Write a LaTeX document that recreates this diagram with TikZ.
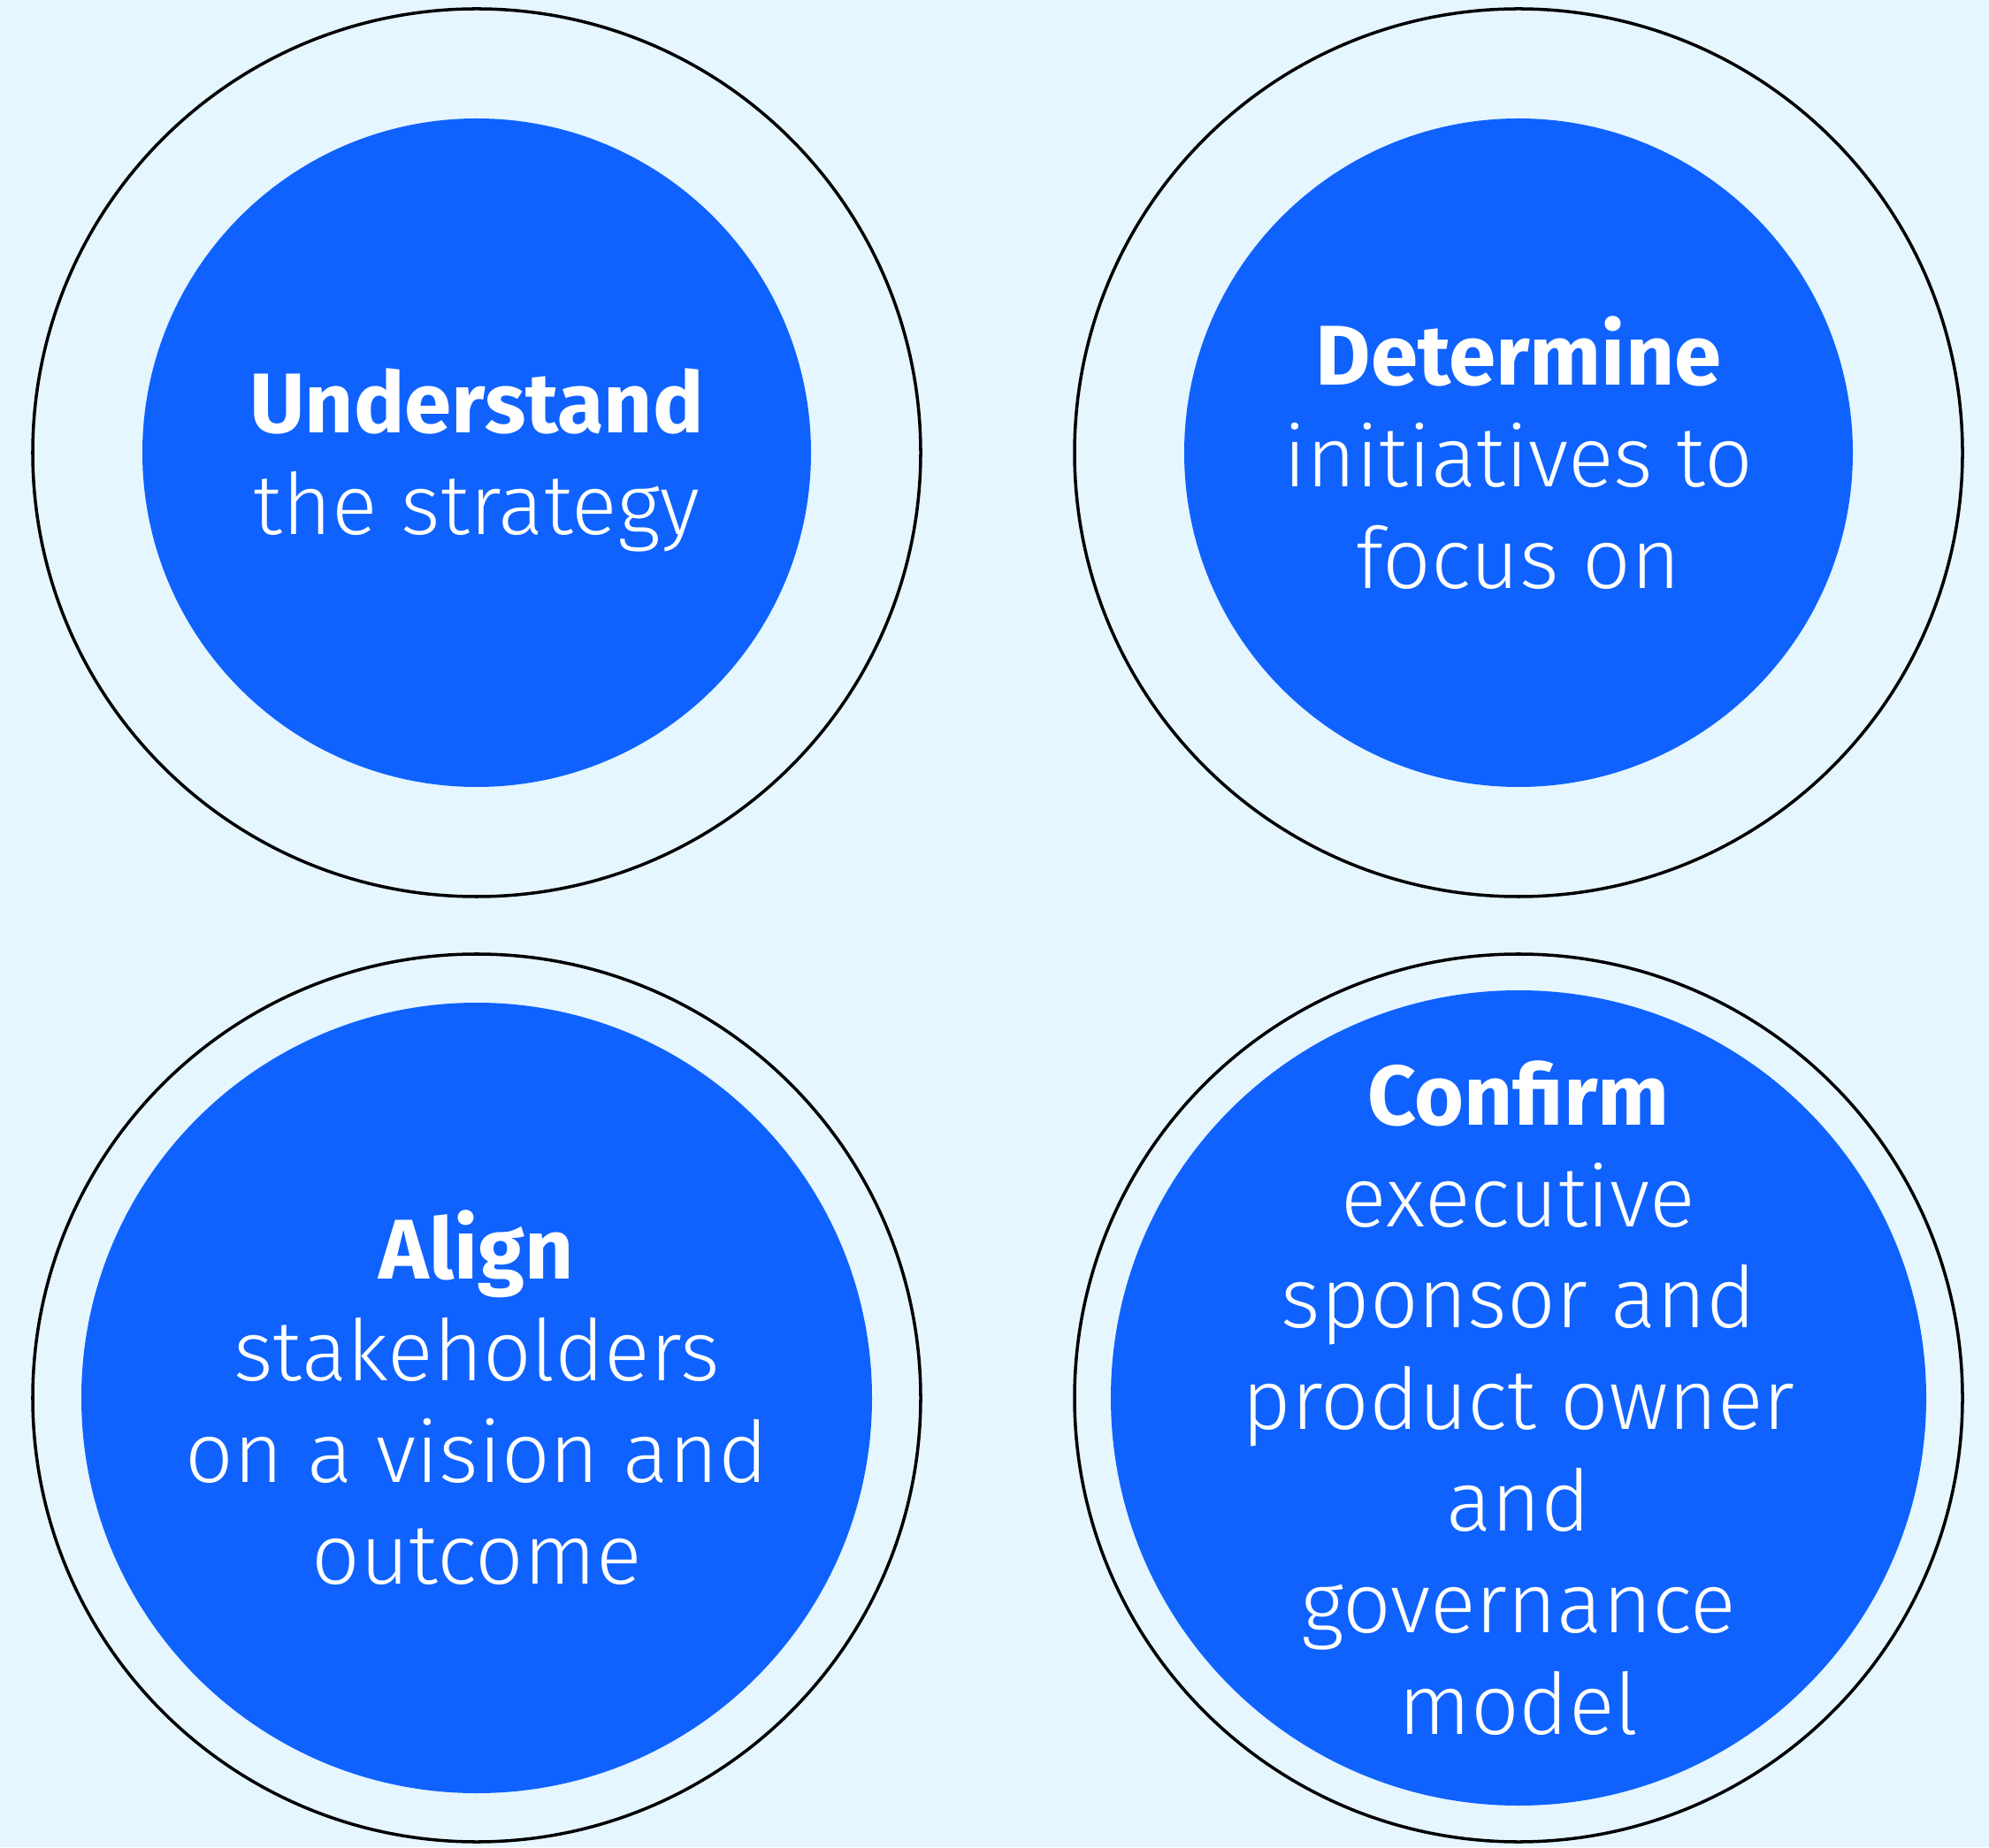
\documentclass[tikz,border=0pt]{standalone}
\usepackage{fontspec}
\setmainfont{Fira Sans}[UprightFont={* Light}, BoldFont={* Bold}]
\usepackage{tikz}
\usetikzlibrary{positioning}
\definecolor{bgblue}{HTML}{E5F6FF}
\definecolor{stepblue}{HTML}{0F62FE}

\begin{document}
\begin{tikzpicture}[
    ring/.style={draw=black, line width=1pt, circle, minimum size=10.04cm, inner sep=0pt},
    disc/.style={fill=stepblue, circle, inner sep=0pt},
    steptext/.style={text=white, align=center, inner sep=0pt,
      font=\fontsize{27.3pt}{32.7pt}\selectfont}
  ]
  \fill[bgblue] (0,0) rectangle (22.49,20.89);
  \useasboundingbox (0,0) rectangle (22.49,20.89);
  % outer rings
  \node (undO) [ring] at (5.39,15.77) {};
  \node (detO) [ring] at (17.17,15.77) {};
  \node (aliO) [ring] at (5.39,5.08) {};
  \node (conO) [ring] at (17.17,5.08) {};
  % filled steps
  \node (undD) [disc, minimum size=7.56cm] at (undO) {};
  \node (detD) [disc, minimum size=7.56cm] at (detO) {};
  \node (aliD) [disc, minimum size=8.94cm] at (aliO) {};
  \node (conD) [disc, minimum size=9.22cm] at (conO) {};
  % texts
  \node (und) [steptext, yshift=-0.08cm] at (undD) {\textbf{Understand}\\the strategy};
  \node (det) [steptext] at (detD) {\textbf{Determine}\\initiatives to\\focus on};
  \node (ali) [steptext] at (aliD) {\textbf{Align}\\stakeholders\\on a vision and\\outcome};
  \node (con) [steptext] at (conD) {\textbf{Confirm}\\executive\\sponsor and\\product owner\\and\\governance\\model};
\end{tikzpicture}
\end{document}
